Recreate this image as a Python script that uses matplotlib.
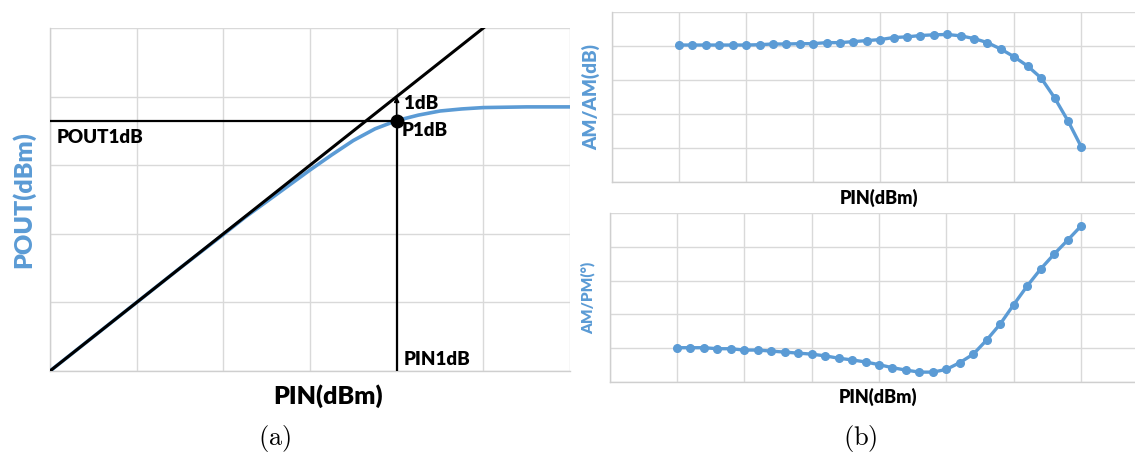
import matplotlib
matplotlib.use("Agg")
import matplotlib.pyplot as plt

plt.rcParams['font.family'] = ['Lato', 'DejaVu Sans']
plt.rcParams['mathtext.fontset'] = 'cm'

BLUE = '#5B9BD5'
GRID = '#D9D9D9'
WEIGHT = 'heavy'

# ---- (a) POUT vs PIN (grid units) ----
lin_x = [0.0, 5.3]
lin_y = [0.0, 5.3]
curve_x = [0.0, 0.5, 1.0, 1.5, 2.0, 2.25, 2.5, 2.75, 3.0, 3.25, 3.5, 3.75, 4.0,
           4.25, 4.5, 4.75, 5.0, 5.5, 6.0]
curve_y = [0.0, 0.5, 1.0, 1.5, 1.99, 2.24, 2.47, 2.70, 2.93, 3.15, 3.36, 3.53, 3.65,
           3.73, 3.79, 3.82, 3.84, 3.85, 3.85]
p1db_x = 4.0
p1db_y = 3.65
lin_at_p1db = 4.0

# ---- (b) AM/AM and AM/PM ----
pin_b = [1.0 + 0.2 * i for i in range(31)]
amam = [4.02, 4.02, 4.02, 4.02, 4.02, 4.02, 4.03, 4.05, 4.05, 4.06, 4.06,
        4.09, 4.09, 4.12, 4.15, 4.18, 4.24, 4.26, 4.30, 4.32, 4.33,
        4.29, 4.21, 4.09, 3.90, 3.67, 3.40, 3.05, 2.47, 1.79, 1.02]
ampm = [1.02, 1.02, 1.02, 0.99, 0.99, 0.95, 0.95, 0.92, 0.89, 0.86, 0.83,
        0.78, 0.71, 0.66, 0.60, 0.52, 0.43, 0.36, 0.30, 0.30, 0.38,
        0.58, 0.83, 1.25, 1.72, 2.29, 2.84, 3.34, 3.78, 4.19, 4.61]

W, H = 1135, 454
fig = plt.figure(figsize=(W / 100, H / 100), dpi=100)


def style(ax, xmax, ymax):
    ax.set_xlim(0, xmax)
    ax.set_ylim(0, ymax)
    ax.set_xticks(range(int(xmax) + 1))
    ax.set_yticks(range(int(ymax) + 1))
    ax.set_xticklabels([])
    ax.set_yticklabels([])
    ax.tick_params(length=0)
    ax.grid(True, color=GRID, linewidth=1.0)
    for s in ('top', 'right'):
        ax.spines[s].set_visible(False)
    for s in ('left', 'bottom'):
        ax.spines[s].set_color('#CFCFCF')
        ax.spines[s].set_linewidth(1.0)
    ax.set_axisbelow(True)


# Panel (a)
axa = fig.add_axes([50 / W, 1 - 371 / H, 520 / W, 343 / H])
style(axa, 6, 5)
axa.plot(curve_x, curve_y, color=BLUE, lw=2.6, solid_capstyle='butt', zorder=3)
axa.plot(lin_x, lin_y, color='black', lw=2.2, zorder=4)
axa.plot([0, p1db_x], [p1db_y, p1db_y], color='black', lw=1.6, zorder=4)
axa.plot([p1db_x, p1db_x], [0, p1db_y], color='black', lw=1.6, zorder=4)
axa.annotate('', xy=(p1db_x, lin_at_p1db), xytext=(p1db_x, p1db_y),
             arrowprops=dict(arrowstyle='-|>', color='black', lw=1.2,
                             mutation_scale=7, shrinkA=0, shrinkB=0), zorder=5)
axa.plot([p1db_x], [p1db_y], 'o', color='black', ms=9, zorder=6)
tkw = dict(fontsize=13.5, fontweight=WEIGHT, color='black')
axa.text(0.08, 3.41, 'POUT1dB', va='center', ha='left', **tkw)
axa.text(4.06, 3.5, 'P1dB', va='center', ha='left', **tkw)
axa.text(4.09, 3.9, '1dB', va='center', ha='left', **tkw)
axa.text(4.08, 0.17, 'PIN1dB', va='center', ha='left', **tkw)
axa.set_xlabel('PIN(dBm)', fontsize=18, fontweight=WEIGHT)
axa.xaxis.set_label_coords(0.535, -0.04, transform=axa.transAxes)
axa.xaxis.label.set_va('top')
axa.set_ylabel('POUT(dBm)', fontsize=18, fontweight=WEIGHT, color=BLUE, labelpad=7)

# Panel (b) top
axb1 = fig.add_axes([612 / W, 1 - 181.7 / H, 523 / W, 170 / H])
style(axb1, 7.8, 5)
axb1.plot(pin_b, amam, color=BLUE, lw=2.4, marker='o', ms=5.5, zorder=3)
axb1.set_xlabel('PIN(dBm)', fontsize=13, fontweight=WEIGHT)
axb1.xaxis.set_label_coords(0.51, -0.04, transform=axb1.transAxes)
axb1.xaxis.label.set_va('top')
axb1.set_ylabel('AM/AM(dB)', fontsize=13.5, fontweight=WEIGHT, color=BLUE, labelpad=5)

# Panel (b) bottom
axb2 = fig.add_axes([609.5 / W, 1 - 382.3 / H, 525.5 / W, 169.6 / H])
style(axb2, 7.8, 5)
axb2.plot(pin_b, ampm, color=BLUE, lw=2.4, marker='o', ms=5.5, zorder=3)
axb2.set_xlabel('PIN(dBm)', fontsize=13, fontweight=WEIGHT)
axb2.xaxis.set_label_coords(0.51, -0.035, transform=axb2.transAxes)
axb2.xaxis.label.set_va('top')
axb2.set_ylabel('AM/PM(°)', fontsize=11, fontweight=WEIGHT, color=BLUE, labelpad=7)

fig.text(275 / W, 1 - 438 / H, r'$(\mathrm{a})$', fontsize=19, ha='center', va='center')
fig.text(860 / W, 1 - 438 / H, r'$(\mathrm{b})$', fontsize=19, ha='center', va='center')

fig.savefig('out.png', dpi=100)
